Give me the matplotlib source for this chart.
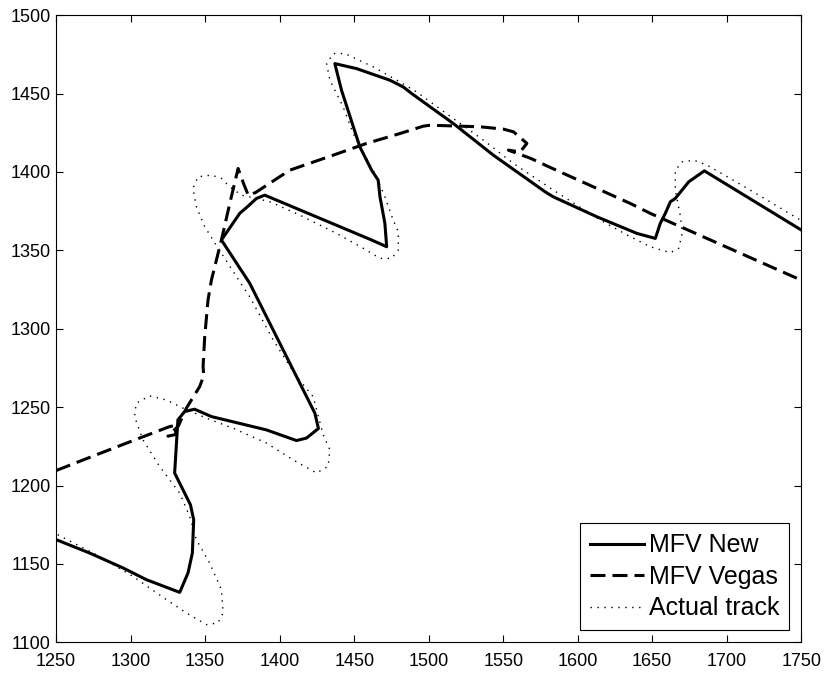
import numpy as np
import matplotlib
matplotlib.use("Agg")
import matplotlib.pyplot as plt

plt.rcParams['font.family'] = ['Liberation Sans', 'DejaVu Sans']

# -----------------------------
# Data
# -----------------------------
new_x = [1250.0, 1272.4, 1294.8, 1310.5, 1332.9, 1338.5, 1341.4, 1342.3, 1340.1,
         1329.5, 1331.7, 1336.2, 1342.9, 1354.2, 1391.1, 1411.3, 1418.0, 1426.0,
         1423.6, 1379.9, 1360.9, 1373.2, 1378.8, 1384.4, 1390.0, 1461.7, 1471.8,
         1470.6, 1467.3, 1466.1, 1461.7, 1453.8, 1441.5, 1437.0, 1451.6, 1474.0,
         1482.9, 1488.6, 1516.5, 1543.4, 1578.2, 1583.7, 1612.9, 1626.3, 1639.8,
         1652.1, 1655.4, 1658.8, 1662.2, 1665.5, 1674.5, 1685.0, 1750.0]
new_y = [1165.5, 1157.0, 1147.5, 1140.0, 1131.9, 1144.3, 1157.0, 1178.2, 1187.8,
         1208.0, 1241.9, 1247.2, 1248.7, 1244.0, 1235.5, 1228.7, 1230.3, 1236.4,
         1246.2, 1329.0, 1356.6, 1373.6, 1378.2, 1383.1, 1385.2, 1356.6, 1352.3,
         1367.2, 1384.2, 1394.8, 1401.1, 1416.0, 1452.1, 1469.1, 1465.9, 1458.5,
         1454.2, 1450.0, 1430.9, 1410.7, 1387.3, 1384.1, 1371.4, 1366.1, 1360.8,
         1357.6, 1367.2, 1373.6, 1381.0, 1383.1, 1393.7, 1400.7, 1363.0]

vegas_x = [1250.0, 1276.9, 1306.0, 1326.1, 1331.0, 1330.0, 1325.0, 1332.0, 1337.4,
           1346.3, 1349.0, 1348.6, 1349.7, 1351.9, 1354.2, 1360.9, 1366.5, 1372.1,
           1376.0, 1379.0, 1384.0, 1406.7, 1435.9, 1458.3, 1480.7, 1496.4, 1500.9,
           1534.5, 1550.2, 1556.9, 1565.9, 1561.4, 1553.5, 1568.6, 1581.5, 1635.3,
           1648.7, 1750.0]
vegas_y = [1209.6, 1219.6, 1230.3, 1237.6, 1238.5, 1232.5, 1231.5, 1238.0, 1249.4,
           1263.1, 1270.0, 1276.0, 1295.0, 1318.3, 1331.1, 1356.6, 1379.9, 1402.2,
           1392.0, 1385.0, 1387.0, 1401.1, 1410.7, 1418.2, 1424.5, 1429.2, 1429.8,
           1428.8, 1427.3, 1425.6, 1418.2, 1412.8, 1413.9, 1408.6, 1402.9, 1379.9,
           1373.6, 1331.0]

track_x = [1251.0, 1279.1, 1301.5, 1323.9, 1337.4, 1350.8, 1358.6, 1362.0, 1360.9,
           1353.0, 1344.1, 1339.6, 1332.9, 1319.4, 1308.2, 1302.6, 1303.7, 1312.7,
           1323.9, 1335.1, 1350.8, 1368.7, 1391.1, 1409.0, 1424.7, 1432.5, 1433.7,
           1429.2, 1422.4, 1411.3, 1395.6, 1379.9, 1375.4, 1356.6, 1349.7, 1344.1,
           1341.8, 1345.2, 1354.2, 1360.9, 1366.5, 1374.3, 1384.4, 1393.4, 1413.5,
           1438.2, 1456.1, 1467.3, 1475.2, 1479.6, 1479.6, 1476.2, 1470.6, 1465.0,
           1449.3, 1442.6, 1433.7, 1431.5, 1435.9, 1443.8, 1462.8, 1480.7, 1491.9,
           1516.5, 1536.7, 1556.9, 1583.7, 1615.1, 1635.3, 1648.7, 1662.2, 1667.8,
           1670.1, 1669.0, 1665.5, 1665.5, 1670.1, 1677.9, 1686.9, 1715.9, 1750.0]
track_y = [1168.7, 1154.8, 1142.1, 1127.3, 1118.8, 1111.3, 1112.4, 1118.8, 1133.6,
           1150.6, 1165.5, 1180.3, 1195.2, 1212.2, 1229.2, 1244.0, 1252.5, 1257.2,
           1254.6, 1249.4, 1243.0, 1236.6, 1227.1, 1216.4, 1208.0, 1212.2, 1222.8,
           1232.4, 1256.8, 1269.5, 1292.9, 1320.4, 1326.8, 1354.5, 1365.1, 1377.8,
           1389.5, 1396.9, 1398.0, 1395.9, 1390.5, 1385.2, 1383.1, 1381.0, 1372.5,
           1360.8, 1351.3, 1344.9, 1344.9, 1350.2, 1361.8, 1369.3, 1384.2, 1396.9,
           1424.5, 1441.5, 1458.5, 1469.1, 1475.5, 1475.5, 1467.0, 1457.4, 1451.0,
           1434.1, 1420.3, 1405.4, 1388.4, 1369.3, 1358.7, 1352.3, 1348.5, 1351.3,
           1360.8, 1371.4, 1388.4, 1401.1, 1406.4, 1407.5, 1404.3, 1388.4, 1369.0]

x_ticks = np.arange(1250, 1751, 50)
y_ticks = np.arange(1100, 1501, 50)

# -----------------------------
# Plot
# -----------------------------
fig = plt.figure(figsize=(8.26, 6.73), dpi=100)
ax = fig.add_axes([0.068, 0.0455, 0.902, 0.932])

ax.plot(new_x, new_y, color='black', lw=2.2, label='MFV New')
ax.plot(vegas_x, vegas_y, color='black', lw=2.2, linestyle=(0, (4.9, 2.3)),
        label='MFV Vegas')
ax.plot(track_x, track_y, color='black', lw=1.0, linestyle=(0, (1, 4)),
        label='Actual track')

ax.set_xlim(1250, 1750)
ax.set_ylim(1100, 1500)
ax.set_xticks(x_ticks)
ax.set_yticks(y_ticks)
ax.tick_params(direction='in', length=5, width=0.8, top=True, right=True,
               labelsize=13)
ax.tick_params(axis='x', pad=8)
ax.tick_params(axis='y', pad=4)
for sp in ax.spines.values():
    sp.set_linewidth(0.8)

leg = ax.legend(loc='lower right', fontsize=18, handlelength=2.15,
                handletextpad=0.2, borderpad=0.4, labelspacing=0.3,
                borderaxespad=0.48, fancybox=False, framealpha=1)
leg.get_frame().set_edgecolor('black')
leg.get_frame().set_linewidth(0.8)

fig.savefig("out.png", dpi=100)
